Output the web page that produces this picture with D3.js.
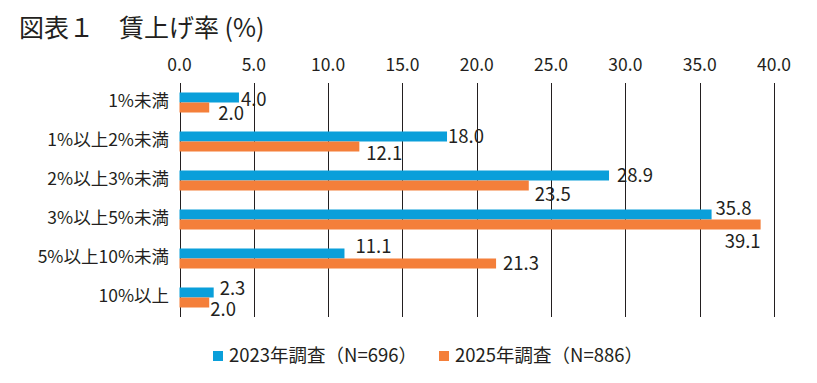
<!DOCTYPE html>
<html><head><meta charset="utf-8">
<script src="https://d3js.org/d3.v7.min.js"></script>
<style>
body{margin:0;background:#fff;}
svg{display:block;font-family:"Noto Sans CJK JP","Noto Sans",sans-serif;}
</style></head>
<body><svg id="c" width="817" height="383"></svg>
<script>
const categories = ["1%未満","1%以上2%未満","2%以上3%未満","3%以上5%未満","5%以上10%未満","10%以上"];
const series2023 = [4.0, 18.0, 28.9, 35.8, 11.1, 2.3];
const series2025 = [2.0, 12.1, 23.5, 39.1, 21.3, 2.0];
const seriesNames = ["2023年調査（N=696）","2025年調査（N=886）"];
const tickValues = [0,5,10,15,20,25,30,35,40];
const title = "図表１　賃上げ率 (%)";

const colors = ["#0a9fda","#f47f3a"];
const ink = "#231f20";
// label placement nudges (dx, dy, anchor) per series/category
const nudge2023 = [[2,2],[1,0],[8,0],[4,-6],[11,-7],[6,-4]];
const nudge2025 = [[9,6],[7,7],[6,9],[0,17,"end"],[7,0],[1,7]];

const svg = d3.select("#c");
const x = d3.scaleLinear().domain([0,40]).range([179.5,774]);
const y = d3.scaleBand().domain(categories).range([83,317]).paddingInner(0.487).paddingOuter(0.2435);
const sub = d3.scaleBand().domain([0,1]).range([0,y.bandwidth()]);

svg.append("text").attr("x",19).attr("y",37).attr("font-size",25)
  .attr("fill",ink).text(title);

// grid
const ax = svg.append("g");
ax.selectAll("line").data(tickValues).join("line")
  .attr("x1",d=>Math.round(x(d))+0.5).attr("x2",d=>Math.round(x(d))+0.5)
  .attr("y1",83).attr("y2",317).attr("stroke",ink).attr("stroke-width",1);
ax.selectAll("text").data(tickValues).join("text")
  .attr("x",d=>x(d)).attr("y",71).attr("text-anchor","middle").attr("font-size",17.5)
  .attr("fill",ink).text(d=>d.toFixed(1));

// category labels
svg.append("g").selectAll("text").data(categories).join("text")
  .attr("x",169).attr("y",d=>y(d)+y.bandwidth()/2-2).attr("dy","0.35em")
  .attr("text-anchor","end").attr("font-size",17.5).attr("fill",ink).text(d=>d);

const all = [series2023, series2025];
const nudges = [nudge2023, nudge2025];
all.forEach((vals,s)=>{
  const g = svg.append("g");
  g.selectAll("rect").data(vals).join("rect")
    .attr("x",x(0)).attr("y",(d,i)=>y(categories[i])+sub(s))
    .attr("width",d=>x(d)-x(0)).attr("height",sub.bandwidth())
    .attr("fill",colors[s]);
  g.selectAll("text").data(vals).join("text")
    .attr("x",(d,i)=>x(d)+nudges[s][i][0])
    .attr("y",(d,i)=>y(categories[i])+sub(s)+sub.bandwidth()/2+nudges[s][i][1])
    .attr("dy","0.35em").attr("text-anchor",(d,i)=>nudges[s][i][2]||"start")
    .attr("font-size",18.5).attr("fill",ink).text(d=>d.toFixed(1));
});

// legend
const legX = [213,439];
const lg = svg.append("g");
seriesNames.forEach((n,s)=>{
  lg.append("rect").attr("x",legX[s]).attr("y",351).attr("width",10).attr("height",10).attr("fill",colors[s]);
  lg.append("text").attr("x",legX[s]+16).attr("y",356).attr("dy","0.35em").attr("font-size",18.5)
    .attr("fill",ink).text(n);
});
</script></body></html>
